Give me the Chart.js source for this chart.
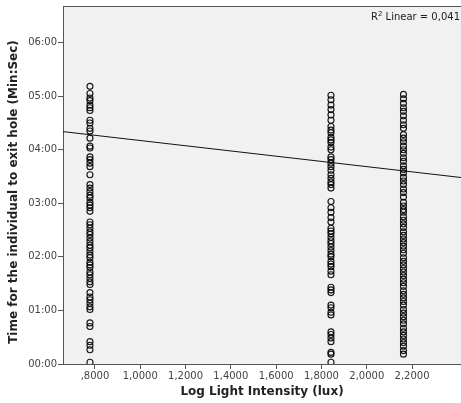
<!DOCTYPE html>
<html>
<head>
<meta charset="utf-8">
<script src="https://cdn.jsdelivr.net/npm/chart.js@4/dist/chart.umd.min.js"></script>
<style>
  html, body { margin: 0; padding: 0; background: #fff; }
</style>
</head>
<body>
<canvas id="canvas" width="461" height="403"></canvas>
<script>
// log10 of light level for each group
var groupX = [0.778, 1.842, 2.162];

// exit times in seconds, one list per light group
var timesLow = [311, 303, 298, 295, 290, 287, 284, 273, 270, 264, 261, 253, 244, 242, 232, 229,
  225, 221, 212, 201, 197, 193, 189, 186, 181, 178, 175, 171, 159, 156, 152, 148, 145, 141, 137,
  133, 130, 126, 122, 119, 114, 111, 108, 103, 100, 96, 92, 89, 80, 75, 72, 68, 64, 61, 46, 42,
  25, 21, 16, 2];
var timesMid = [301, 296, 290, 285, 279, 273, 266, 262, 259, 254, 251, 248, 243, 240, 232, 229,
  225, 221, 217, 212, 208, 204, 201, 197, 182, 175, 170, 164, 159, 152, 149, 146, 142, 138, 135,
  131, 127, 123, 120, 115, 112, 109, 104, 100, 86, 83, 80, 66, 63, 58, 55, 36, 33, 29, 25, 13, 11, 2];
var timesHigh = [302, 297, 292, 287, 283, 278, 273, 268, 264, 257, 253, 249, 244, 240, 236, 231,
  227, 222, 218, 214, 209, 205, 201, 196, 192, 187, 181, 177, 173, 170, 165, 161, 157, 153, 148,
  144, 140, 136, 132, 128, 124, 119, 115, 111, 107, 103, 99, 95, 91, 87, 82, 78, 74, 70, 66, 61,
  57, 53, 49, 45, 40, 36, 32, 28, 24, 20, 15, 11];

// fitted line end points (x, seconds)
var fitX = [0.659, 2.416];
var fitY = [260.3, 208.9];
var fitLabel = 'Linear = 0,041';

var xTicks = [0.8, 1.0, 1.2, 1.4, 1.6, 1.8, 2.0, 2.2];
var xTickLabels = [',8000', '1,0000', '1,2000', '1,4000', '1,6000', '1,8000', '2,0000', '2,2000'];
var yTicks = [0, 60, 120, 180, 240, 300, 360];
var yTickLabels = ['00:00', '01:00', '02:00', '03:00', '04:00', '05:00', '06:00'];
var yTitle = 'Time for the individual to exit hole (Min:Sec)';

function toPoints(x, list) {
  return list.map(function (t) { return { x: x, y: t }; });
}

var pointsAll = []
  .concat(toPoints(groupX[0], timesLow))
  .concat(toPoints(groupX[1], timesMid))
  .concat(toPoints(groupX[2], timesHigh));

var axisColor = '#555';
var tickFont = { family: 'DejaVu Sans', size: 10 };
var titleFont = { family: 'DejaVu Sans', size: 12, weight: 'bold' };

// grey plot panel, top frame line, y title and the R² note
var panel = {
  id: 'panel',
  beforeDraw: function (chart) {
    var ctx = chart.ctx, a = chart.chartArea;
    ctx.save();
    ctx.fillStyle = '#f1f1f1';
    ctx.fillRect(a.left, a.top, a.right - a.left, a.bottom - a.top);
    ctx.strokeStyle = axisColor;
    ctx.lineWidth = 1;
    ctx.beginPath();
    ctx.moveTo(a.left, a.top + 0.5);
    ctx.lineTo(a.right, a.top + 0.5);
    ctx.stroke();
    ctx.restore();
  },
  afterDraw: function (chart) {
    var ctx = chart.ctx, a = chart.chartArea;
    ctx.save();
    ctx.fillStyle = '#222';
    ctx.textBaseline = 'alphabetic';
    ctx.font = '10px "DejaVu Sans"';
    var rest = ' ' + fitLabel;
    var wR = ctx.measureText('R').width;
    var wRest = ctx.measureText(rest).width;
    ctx.font = '7px "DejaVu Sans"';
    var wSup = ctx.measureText('2').width;
    var x = a.right - 1 - wRest - wSup - wR;
    var base = a.top + 14;
    ctx.font = '10px "DejaVu Sans"';
    ctx.fillText('R', x, base);
    ctx.font = '7px "DejaVu Sans"';
    ctx.fillText('2', x + wR, base - 4);
    ctx.font = '10px "DejaVu Sans"';
    ctx.fillText(rest, x + wR + wSup, base);

    // rotated y axis title
    ctx.translate(14, 192);
    ctx.rotate(-Math.PI / 2);
    ctx.font = 'bold 12px "DejaVu Sans"';
    ctx.textAlign = 'center';
    ctx.textBaseline = 'middle';
    ctx.fillText(yTitle, 0, 0);
    ctx.restore();
  }
};

new Chart(document.getElementById('canvas'), {
  type: 'scatter',
  data: {
    datasets: [
      {
        data: pointsAll,
        pointStyle: 'circle',
        pointRadius: 3,
        pointBorderWidth: 1.15,
        pointBorderColor: 'rgba(0,0,0,0.9)',
        pointBackgroundColor: 'rgba(0,0,0,0)',
        pointHoverRadius: 3
      },
      {
        data: [{ x: fitX[0], y: fitY[0] }, { x: fitX[1], y: fitY[1] }],
        showLine: true,
        borderColor: '#111',
        borderWidth: 1,
        pointRadius: 0
      }
    ]
  },
  options: {
    responsive: false,
    devicePixelRatio: 1,
    animation: false,
    layout: { autoPadding: false, padding: { top: 6, right: 0, left: 0, bottom: 0 } },
    plugins: {
      legend: { display: false },
      tooltip: { enabled: false }
    },
    scales: {
      x: {
        type: 'linear',
        min: fitX[0],
        max: fitX[1],
        afterBuildTicks: function (s) {
          s.ticks = xTicks.map(function (v) { return { value: v }; });
        },
        afterFit: function (s) {
          s.height = 39;
          s.paddingLeft = 0;
          s.paddingRight = 0;
        },
        ticks: {
          autoSkip: false,
          maxRotation: 0,
          padding: 1,
          color: '#444',
          font: tickFont,
          callback: function (v, i) { return xTickLabels[i]; }
        },
        grid: { drawOnChartArea: false, drawTicks: true, tickLength: 5, color: axisColor },
        border: { color: axisColor, width: 1 },
        title: {
          display: true,
          text: 'Log Light Intensity (lux)',
          color: '#222',
          font: titleFont,
          padding: { top: 0, bottom: 4 }
        }
      },
      y: {
        type: 'linear',
        min: 0,
        max: 401,
        afterBuildTicks: function (s) {
          s.ticks = yTicks.map(function (v) { return { value: v }; });
        },
        afterFit: function (s) {
          s.width = 63;
          s.paddingTop = 0;
          s.paddingBottom = 0;
        },
        ticks: {
          autoSkip: false,
          padding: 1,
          color: '#444',
          font: tickFont,
          callback: function (v, i) { return yTickLabels[i]; }
        },
        grid: { drawOnChartArea: false, drawTicks: true, tickLength: 5, color: axisColor },
        border: { color: axisColor, width: 1 }
      }
    }
  },
  plugins: [panel]
});
</script>
</body>
</html>
